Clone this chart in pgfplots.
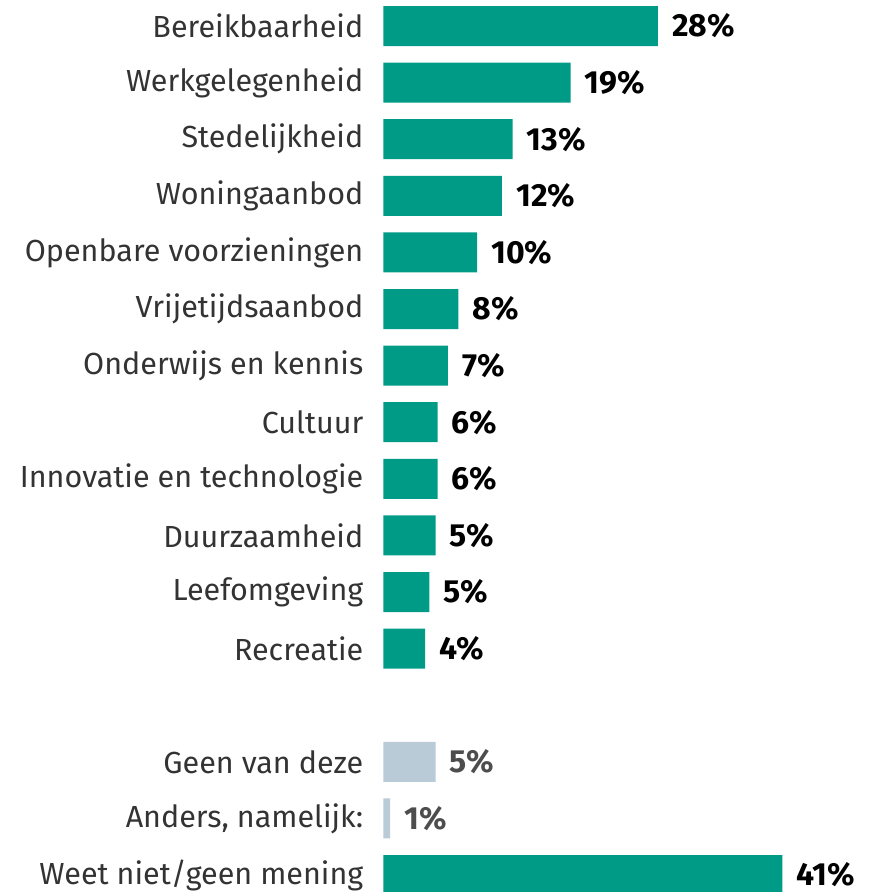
\documentclass[border=0pt]{standalone}
\usepackage{pgfplots}
\pgfplotsset{compat=1.18}
\usepackage{fontspec}
\setmainfont{Fira Sans}
\definecolor{tealbar}{HTML}{009B87}
\definecolor{greybar}{HTML}{B9CBD7}
\definecolor{txt}{HTML}{333333}
\definecolor{greytxt}{HTML}{4D4D4D}
\begin{document}
\begin{tikzpicture}[x=1pt,y=1pt]
\path[use as bounding box] (0,0) rectangle (879,892);
\clip (0,0) rectangle (879,892);
\begin{axis}[
  at={(383.5pt,894.3pt)}, anchor=north west,
  scale only axis, width=487.5pt, height=905.6pt,
  xmin=0, xmax=50, ymin=-0.5, ymax=15.5, y dir=reverse,
  axis x line=none, axis y line*=left,
  y axis line style={draw=none},
  major tick length=0pt,
  ytick={0,1,2,3,4,5,6,7,8,9,10,11,13,14,15},
  yticklabels={Bereikbaarheid,Werkgelegenheid,Stedelijkheid,Woningaanbod,Openbare voorzieningen,Vrijetijdsaanbod,Onderwijs en kennis,Cultuur,Innovatie en technologie,Duurzaamheid,Leefomgeving,Recreatie,Geen van deze,{Anders, namelijk:},Weet niet/geen mening},
  yticklabel style={font=\fontsize{30.5}{36}\selectfont, text=txt, anchor=east, inner sep=0pt, xshift=-20pt},
  xbar, bar width=40pt, bar shift=0pt,
  point meta=explicit symbolic,
  nodes near coords,
  clip=false,
]
\addplot[fill=tealbar, draw=none,
  nodes near coords style={font=\fontsize{32}{38}\selectfont\bfseries, text=black, anchor=west, inner sep=0pt, xshift=14pt}]
coordinates {
(28.15,0) [28\%]
(19.2,1) [19\%]
(13.25,2) [13\%]
(12.15,3) [12\%]
(9.6,4) [10\%]
(7.67,5) [8\%]
(6.6,6) [7\%]
(5.56,7) [6\%]
(5.56,8) [6\%]
(5.35,9) [5\%]
(4.7,10) [5\%]
(4.26,11) [4\%]
(40.9,15) [41\%]
};
\addplot[fill=greybar, draw=none,
  nodes near coords style={font=\fontsize{32}{38}\selectfont\bfseries, text=greytxt, anchor=west, inner sep=0pt, xshift=14pt}]
coordinates {
(5.35,13) [5\%]
(0.67,14) [1\%]
};
\end{axis}
\end{tikzpicture}
\end{document}
